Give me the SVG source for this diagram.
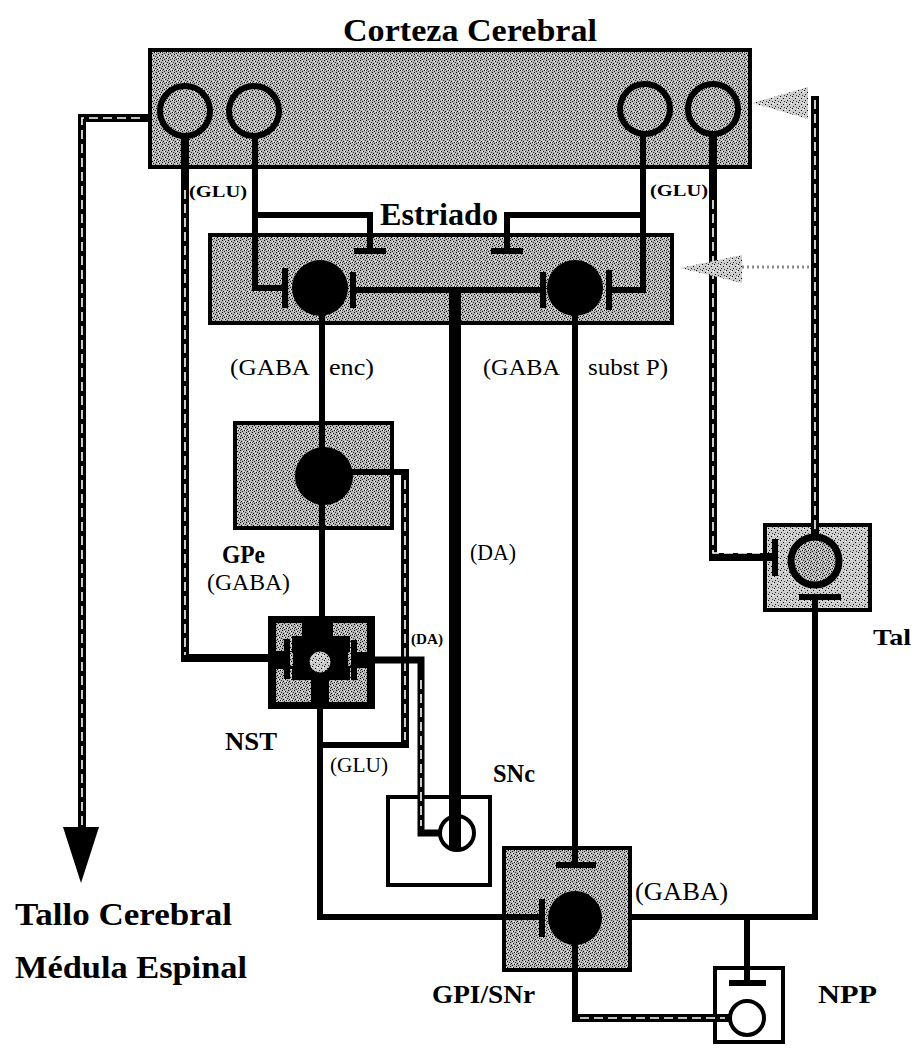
<svg xmlns="http://www.w3.org/2000/svg" width="916" height="1054" viewBox="0 0 916 1054">
<defs>
<pattern id="stip" width="6" height="6" patternUnits="userSpaceOnUse">
<rect width="6" height="6" fill="#b6b6b6"/>
<rect x="0" y="0" width="1" height="1" fill="#000"/>
<rect x="3" y="1" width="1" height="1" fill="#000"/>
<rect x="1" y="3" width="1" height="1" fill="#000"/>
<rect x="4" y="4" width="1" height="1" fill="#000"/>
<rect x="2" y="5" width="1" height="1" fill="#222"/>
<rect x="5" y="2" width="1" height="1" fill="#333"/>
<rect x="2" y="1" width="1" height="1" fill="#fff"/>
<rect x="5" y="4" width="1" height="1" fill="#fff"/>
<rect x="0" y="4" width="1" height="1" fill="#555"/>
<rect x="3" y="3" width="1" height="1" fill="#eee"/>
</pattern>
<pattern id="stipL" width="6" height="6" patternUnits="userSpaceOnUse">
<rect width="6" height="6" fill="#cdcdcd"/>
<rect x="0" y="0" width="1" height="1" fill="#000"/>
<rect x="3" y="2" width="1" height="1" fill="#000"/>
<rect x="1" y="4" width="1" height="1" fill="#222"/>
<rect x="4" y="5" width="1" height="1" fill="#444"/>
<rect x="5" y="1" width="1" height="1" fill="#fff"/>
</pattern>
<style>
.box{fill:url(#stip);stroke:#000;stroke-width:4}
.wbox{fill:#fff;stroke:#000;stroke-width:4}
.ring{fill:url(#stip);stroke:#000;stroke-width:6}
.oring{fill:#fff;stroke:#000;stroke-width:4}
.ln{fill:none;stroke:#000;stroke-width:6;stroke-linecap:butt;stroke-linejoin:miter}
.bar{fill:none;stroke:#000;stroke-width:6}
.thick{fill:none;stroke:#000;stroke-width:12}
.dblk{fill:none;stroke:#000;stroke-width:8;stroke-linejoin:miter}
.dwht{fill:none;stroke:#fff;stroke-width:1.6;stroke-dasharray:9 5}
.gray{fill:url(#stipL);stroke:none}
.gdot{fill:none;stroke:#8a8a8a;stroke-width:3;stroke-dasharray:2 3}
.t{font-family:"Liberation Serif","Times New Roman",serif;fill:#000}
.b{font-weight:bold}
</style>
</defs>
<rect width="916" height="1054" fill="#fff"/>

<g id="corteza">
<text class="t b" x="343" y="41" font-size="32" textLength="254" lengthAdjust="spacingAndGlyphs">Corteza Cerebral</text>
<rect class="box" x="150" y="50" width="600" height="117"/>
<circle class="ring" cx="185" cy="111" r="25"/>
<circle class="ring" cx="254" cy="111" r="25"/>
<circle class="ring" cx="645" cy="109" r="25"/>
<circle class="ring" cx="713" cy="109" r="25"/>
</g>

<g id="estriado">
<rect class="box" x="210" y="235" width="462" height="88"/>
<circle cx="320" cy="288" r="28" fill="#000"/>
<circle cx="575" cy="288" r="28" fill="#000"/>
<text class="t b" x="380" y="225" font-size="32" textLength="118" lengthAdjust="spacingAndGlyphs">Estriado</text>
</g>

<g id="gpe">
<rect class="box" x="235" y="423" width="157" height="105"/>
<circle cx="324" cy="476" r="29" fill="#000"/>
<text class="t b" x="222" y="563" font-size="26" textLength="43" lengthAdjust="spacingAndGlyphs">GPe</text>
<text class="t" x="207" y="590" font-size="24" textLength="83" lengthAdjust="spacingAndGlyphs">(GABA)</text>
</g>

<g id="nst">
<rect x="270" y="618" width="103" height="89" fill="#000" stroke="#000" stroke-width="4"/>
<rect x="276" y="623" width="26" height="28" fill="url(#stip)"/>
<rect x="333" y="623" width="34" height="29" fill="url(#stip)"/>
<rect x="276" y="669" width="35" height="33" fill="url(#stip)"/>
<rect x="329" y="668" width="38" height="34" fill="url(#stip)"/>
<rect x="292" y="636" width="22" height="44" fill="#000"/>
<rect x="328" y="636" width="22" height="44" fill="#000"/>
<rect x="289" y="652" width="4" height="14" fill="url(#stip)"/>
<rect x="348" y="652" width="4" height="14" fill="url(#stip)"/>
<circle cx="320" cy="662" r="13" fill="url(#stipL)" stroke="#000" stroke-width="5"/>
<text class="t b" x="225" y="750" font-size="26" textLength="52" lengthAdjust="spacingAndGlyphs">NST</text>
</g>

<g id="tal">
<rect class="box" x="765" y="525" width="105" height="85" style="fill:url(#stipL)"/>
<circle class="ring" cx="815" cy="561" r="24" style="stroke-width:7"/>
<text class="t b" x="873" y="645" font-size="24" textLength="38" lengthAdjust="spacingAndGlyphs">Tal</text>
</g>

<g id="snc">
<rect class="wbox" x="388" y="797" width="102" height="88"/>
<circle class="oring" cx="457" cy="833" r="17"/>
<text class="t b" x="493" y="782" font-size="26" textLength="42" lengthAdjust="spacingAndGlyphs">SNc</text>
</g>

<g id="gpi">
<rect class="box" x="504" y="848" width="126" height="122"/>
<circle cx="575" cy="918" r="27" fill="#000"/>
<text class="t b" x="432" y="1003" font-size="26" textLength="103" lengthAdjust="spacingAndGlyphs">GPI/SNr</text>
</g>

<g id="npp">
<rect class="wbox" x="715" y="968" width="68" height="74"/>
<circle class="oring" cx="747" cy="1018" r="17"/>
<text class="t b" x="818" y="1003" font-size="25" textLength="59" lengthAdjust="spacingAndGlyphs">NPP</text>
</g>

<g id="salida">
<text class="t b" x="15" y="925" font-size="32" textLength="217" lengthAdjust="spacingAndGlyphs">Tallo Cerebral</text>
<text class="t b" x="15" y="978" font-size="32" textLength="232" lengthAdjust="spacingAndGlyphs">Médula Espinal</text>
</g>

<g id="connectors">
<path class="ln" d="M255,137 V288 H282"/>
<path class="bar" d="M285,268 V308"/>
<path class="ln" d="M255,215 H370 V248"/>
<path class="bar" d="M354,251 H386"/>
<path class="ln" d="M643,135 V290 H612"/>
<path class="bar" d="M609,270 V310"/>
<path class="ln" d="M643,215 H507 V248"/>
<path class="bar" d="M491,251 H523"/>
<path class="ln" d="M353,290 H543"/>
<path class="bar" d="M353,272 V308"/>
<path class="bar" d="M543,272 V308"/>
<path class="thick" d="M455,290 V850"/>
<path class="ln" d="M322,300 V476"/>
<path class="ln" d="M322,500 V620"/>
<path class="ln" d="M320,676 V917 H539"/>
<path class="bar" d="M542,899 V937"/>
<path class="ln" d="M575,300 V862"/>
<path class="bar" d="M556,865 H596"/>
<path class="ln" d="M345,472 H408"/>
<path class="dblk" d="M405,469 V745"/>
<path class="dwht" d="M405,480 V740"/>
<path class="ln" d="M320,745 H409"/>
<path class="dblk" d="M185,136 V658 H284"/>
<path class="dwht" d="M185,190 V655"/>
<path class="bar" d="M287,639 V679"/>
<path class="ln" d="M440,833 H421 V660 H356" style="stroke-width:7"/>
<path class="dwht" d="M421,680 V826"/>
<path class="bar" d="M354,640 V680"/>
<path class="dblk" d="M150,118 H82 V830"/>
<path class="dwht" d="M140,118 H82 V825"/>
<polygon points="63,827 99,827 81,883" fill="#000"/>
<path class="dblk" d="M713,135 V557 H772"/>
<path class="dwht" d="M713,200 V553 H760"/>
<path class="bar" d="M775,539 V576"/>
<path class="dblk" d="M815,96 V537"/>
<path class="dwht" d="M815,100 V530"/>
<polygon class="gray" points="752,103 808,87 808,119"/>
<polygon class="gray" points="680,268 742,255 742,283"/>
<path class="gdot" d="M742,267 H811"/>
<path class="bar" d="M799,597 H841"/>
<path class="ln" d="M815,597 V917 H630"/>
<path class="ln" d="M747,917 V980"/>
<path class="bar" d="M729,983 H766"/>
<path class="ln" d="M575,944 V1018"/>
<path class="dblk" d="M572,1018 H730"/>
<path class="dwht" d="M580,1018 H725"/>
<text class="t b" x="189" y="197" font-size="16" textLength="58" lengthAdjust="spacingAndGlyphs">(GLU)</text>
<text class="t b" x="650" y="196" font-size="16" textLength="58" lengthAdjust="spacingAndGlyphs">(GLU)</text>
<text class="t" x="230" y="375" font-size="24" textLength="80" lengthAdjust="spacingAndGlyphs">(GABA</text>
<text class="t" x="329" y="375" font-size="24" textLength="45" lengthAdjust="spacingAndGlyphs">enc)</text>
<text class="t" x="483" y="375" font-size="24" textLength="77" lengthAdjust="spacingAndGlyphs">(GABA</text>
<text class="t" x="588" y="375" font-size="24" textLength="80" lengthAdjust="spacingAndGlyphs">subst P)</text>
<text class="t" x="470" y="560" font-size="23" textLength="46" lengthAdjust="spacingAndGlyphs">(DA)</text>
<text class="t b" x="411" y="644" font-size="14" textLength="32" lengthAdjust="spacingAndGlyphs">(DA)</text>
<text class="t" x="330" y="772" font-size="22" textLength="58" lengthAdjust="spacingAndGlyphs">(GLU)</text>
<text class="t" x="635" y="900" font-size="25" textLength="93" lengthAdjust="spacingAndGlyphs">(GABA)</text>
</g>
</svg>
